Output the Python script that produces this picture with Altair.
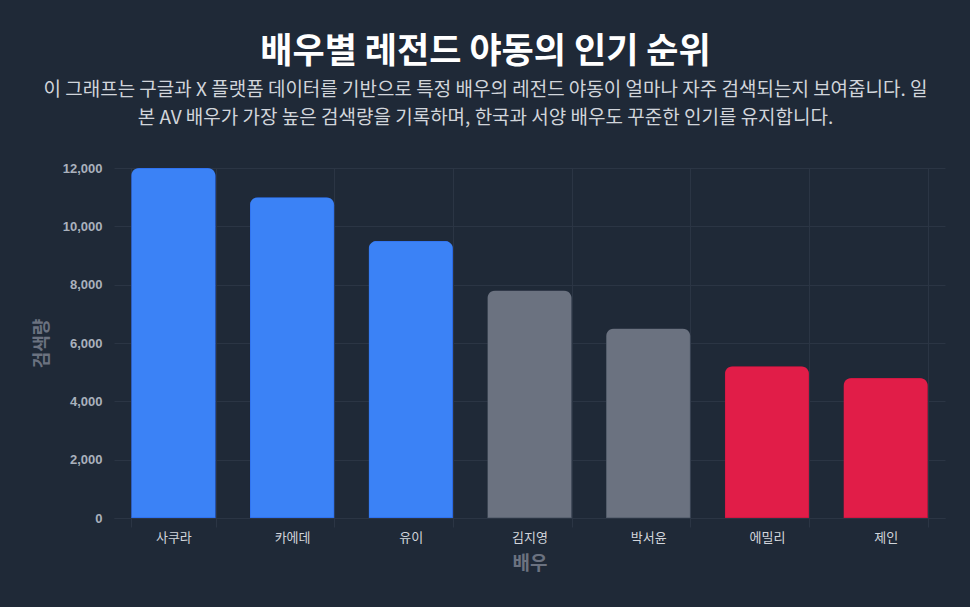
import altair as alt
import pandas as pd

actors = ["사쿠라", "카에데", "유이", "김지영", "박서윤", "에밀리", "제인"]
searches = [12000, 11000, 9500, 7800, 6500, 5200, 4800]
groups = ["일본", "일본", "일본", "한국", "한국", "서양", "서양"]
group_names = ["일본", "한국", "서양"]
group_colors = ["#3b82f6", "#6b7280", "#e11d48"]
group_strokes = ["#2563eb", "#4b5563", "#be123c"]
y_ticks = [0, 2000, 4000, 6000, 8000, 10000, 12000]

title_text = "배우별 레전드 야동의 인기 순위"
subtitle_lines = [
    "이 그래프는 구글과 X 플랫폼 데이터를 기반으로 특정 배우의 레전드 야동이 얼마나 자주 검색되는지 보여줍니다. 일",
    "본 AV 배우가 가장 높은 검색량을 기록하며, 한국과 서양 배우도 꾸준한 인기를 유지합니다.",
]

df = pd.DataFrame({"배우": actors, "검색량": searches, "그룹": groups})

KR = "Noto Sans CJK KR"
BG = "#1f2937"
GRID = "#2b3544"

chart = (
    alt.Chart(df)
    .mark_bar(
        cornerRadiusTopLeft=8,
        cornerRadiusTopRight=8,
        strokeWidth=1,
    )
    .encode(
        x=alt.X(
            "배우:N",
            sort=actors,
            scale=alt.Scale(paddingInner=0.29, paddingOuter=0.145),
            axis=alt.Axis(
                title="배우",
                titleFont=KR,
                titleFontSize=19,
                titleFontWeight="bold",
                titleColor="#6b7280",
                titlePadding=10,
                labelFont=KR,
                labelFontSize=13,
                labelColor="#d1d5db",
                labelAngle=0,
                labelPadding=4,
                tickBand="extent",
                grid=True,
                gridColor=GRID,
                tickColor=GRID,
                tickSize=9,
                domainColor=GRID,
            ),
        ),
        y=alt.Y(
            "검색량:Q",
            scale=alt.Scale(domain=[0, 12000], nice=False),
            axis=alt.Axis(
                title="검색량",
                titleFont=KR,
                titleFontSize=18,
                titleFontWeight="bold",
                titleColor="#6b7280",
                titlePadding=11,
                values=y_ticks,
                format=",d",
                labelFont="Liberation Sans",
                labelFontSize=13,
                labelFontWeight="bold",
                labelColor="#aab1bd",
                labelPadding=12,
                grid=True,
                gridColor=GRID,
                ticks=False,
                domain=False,
            ),
        ),
        color=alt.Color(
            "그룹:N",
            scale=alt.Scale(domain=group_names, range=group_colors),
            legend=None,
        ),
        stroke=alt.Stroke(
            "그룹:N",
            scale=alt.Scale(domain=group_names, range=group_strokes),
            legend=None,
        ),
    )
    .properties(
        width=831,
        height=350,
        background=BG,
        autosize=alt.AutoSizeParams(type="none"),
        padding={"left": 106, "top": 160, "right": 17, "bottom": 81},
        title=alt.TitleParams(
            text=title_text,
            subtitle=subtitle_lines,
            anchor="middle",
            frame="group",
            dx=-44,
            font=KR,
            fontSize=35,
            fontWeight="bold",
            color="#ffffff",
            subtitleFont=KR,
            subtitleFontSize=19,
            subtitleColor="#d1d5db",
            subtitleLineHeight=28,
            subtitlePadding=11,
            offset=34,
        ),
    )
    .configure_view(strokeOpacity=0)
)

chart.save(
    "out.html",
    embed_options={
        "renderer": "svg",
        "actions": False,
        "defaultStyle": "html, body { background: #1f2937; }",
    },
)
